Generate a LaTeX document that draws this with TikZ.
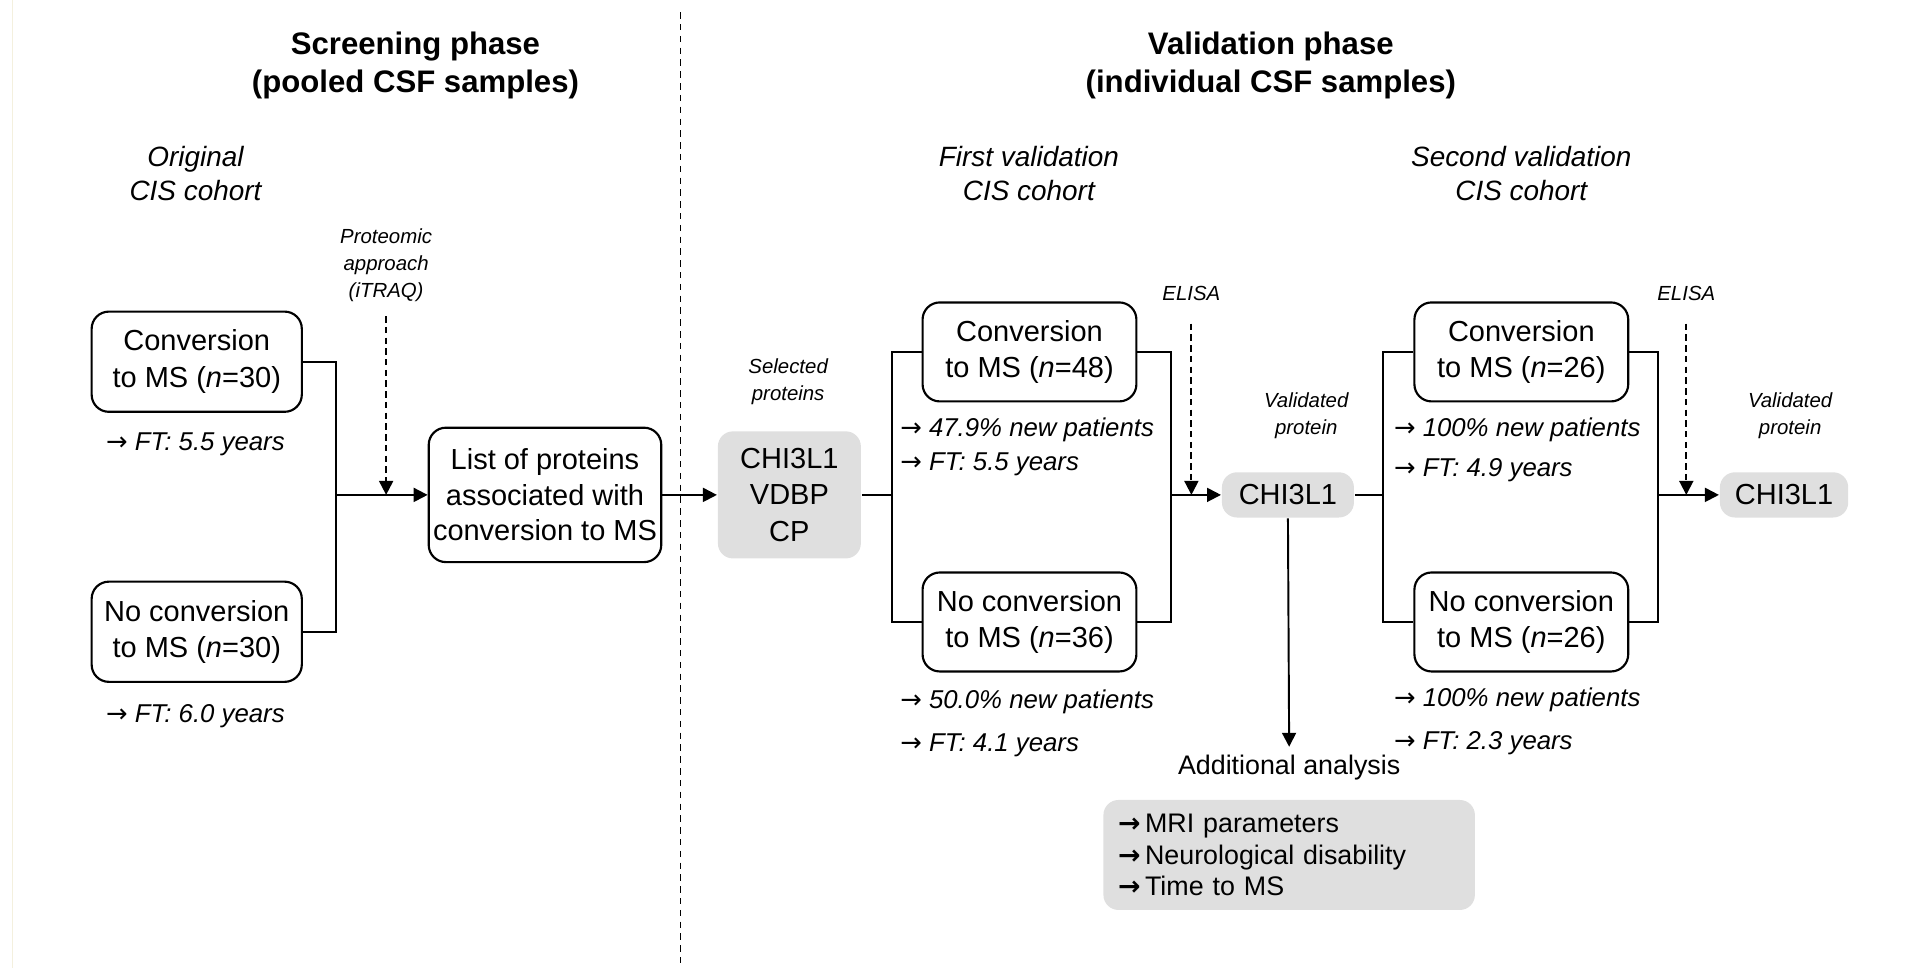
\documentclass[tikz,border=0pt]{standalone}
\usepackage{fontspec}
\setmainfont{Liberation Sans}
\newfontfamily\arrowfont{DejaVu Sans}
\newcommand{\ra}{{\arrowfont\upshape →}}
\usetikzlibrary{arrows.meta, positioning, calc}

\begin{document}
\begin{tikzpicture}[
		>={Triangle[length=6.5pt,width=6.5pt]},
		line width=0.9pt,
		group/.style={draw, rounded corners=8pt, line width=1pt, align=center,
			minimum width=3.5cm, minimum height=1.62cm, inner sep=2pt,
			font=\fontsize{13.5}{17}\selectfont},
		protein/.style={fill=gray!25, rounded corners=7pt, align=center,
			font=\fontsize{13.5}{17}\selectfont},
		cohort/.style={align=center, font=\itshape\fontsize{13}{16}\selectfont},
		note/.style={align=center, font=\itshape\fontsize{9.5}{12.5}\selectfont},
		fact/.style={anchor=west, inner sep=0pt, font=\itshape\fontsize{12}{14}\selectfont},
		phase/.style={align=center, font=\bfseries\fontsize{14.5}{17.5}\selectfont},
		divider/.style={dash pattern=on 3pt off 2.5pt, line width=0.8pt},
		dashflow/.style={dash pattern=on 3pt off 2pt, ->}
		]
		\useasboundingbox (0,0) rectangle (31.36,-15.84);
		
		% ==========================================
		% PHASE TITLES
		% ==========================================
		\node[phase] (screen) at (6.8,-1.07) {Screening phase\\(pooled CSF samples)};
		\node[phase] (valid) at (20.8,-1.07) {Validation phase\\(individual CSF samples)};
		
		\coordinate (edgetop) at (0.2,0);
		\coordinate (edgebot) at (0.2,-15.84);
		\draw[line width=0.6pt, color={rgb,255:red,244;green,240;blue,222}] (edgetop) -- (edgebot);
		
		\coordinate (divtop) at (11.14,-0.2);
		\coordinate (divbot) at (11.14,-15.8);
		\draw[divider] (divtop) -- (divbot);
		
		% ==========================================
		% SCREENING (original CIS cohort)
		% ==========================================
		\node[cohort] (orig) at (3.2,-2.84) {Original\\CIS cohort};
		\node[group, minimum width=3.44cm, minimum height=1.64cm] (conv30) at (3.22,-5.92)
		{Conversion\\to MS (\textit{n}=30)};
		\node[fact] (ft30) at (1.72,-7.28) {\ra\ FT: 5.5 years};
		\node[group, minimum width=3.44cm, minimum height=1.64cm] (noconv30) at (3.22,-10.34)
		{No conversion\\to MS (\textit{n}=30)};
		\node[fact] (ft30b) at (1.72,-11.72) {\ra\ FT: 6.0 years};
		
		\coordinate (join) at (5.5,-8.1);
		\node[note] (prot) at (6.32,-4.34) {Proteomic\\approach\\(iTRAQ)};
		\node[group, minimum width=3.76cm, minimum height=2.2cm, font=\fontsize{13.5}{16.5}\selectfont]
		(list) at (8.92,-8.1) {List of proteins\\associated with\\conversion to MS};
		
		\draw (conv30.east) -| (join);
		\draw (noconv30.east) -| (join);
		\draw[->] (join) -- (list.west);
		\draw[dashflow] ([yshift=-3pt]prot.south) -- (prot.south |- join);
		
		% ==========================================
		% SELECTED PROTEINS
		% ==========================================
		\node[note] (selnote) at (12.9,-6.25) {Selected\\proteins};
		\node[protein, minimum width=2.34cm, minimum height=2.08cm] (sel) at (12.92,-8.1)
		{CHI3L1\\VDBP\\CP};
		\draw[->] (list.east) -- (sel.west);
		
		% ==========================================
		% FIRST VALIDATION COHORT
		% ==========================================
		\node[cohort] (first) at (16.84,-2.84) {First validation\\CIS cohort};
		\node[group] (conv48) at (16.85,-5.76) {Conversion\\to MS (\textit{n}=48)};
		\node[fact] (pat48) at (14.72,-7.04) {\ra\ 47.9\% new patients};
		\node[fact] (ft48) at (14.72,-7.6) {\ra\ FT: 5.5 years};
		\node[group] (noconv36) at (16.85,-10.18) {No conversion\\to MS (\textit{n}=36)};
		\node[fact] (pat36) at (14.72,-11.48) {\ra\ 50.0\% new patients};
		\node[fact] (ft36) at (14.72,-12.2) {\ra\ FT: 4.1 years};
		
		\coordinate (split1) at (14.6,-8.1);
		\coordinate (merge1) at (19.16,-8.1);
		\node[note] (elisa1) at (19.5,-4.8) {ELISA};
		\node[note] (valnote1) at (21.38,-6.8) {Validated\\protein};
		\node[protein, minimum width=2.16cm, minimum height=0.74cm, inner sep=1pt] (chi1) at (21.08,-8.1) {CHI3L1};
		
		\draw (sel.east) -- (split1);
		\draw (conv48.west) -| (split1) |- (noconv36.west);
		\draw (conv48.east) -| (merge1) |- (noconv36.east);
		\draw[->] (merge1) -- (chi1.west);
		\draw[dashflow] ([yshift=-7pt]elisa1.south) -- (elisa1.south |- merge1);
		
		% ==========================================
		% ADDITIONAL ANALYSIS
		% ==========================================
		\node[font=\fontsize{12.5}{15}\selectfont] (addl) at (21.1,-12.56) {Additional analysis};
		\node[protein, below=0.18cm of addl, align=left, text width=5.6cm, inner xsep=0.24cm,
		minimum height=1.8cm, font=\fontsize{12.5}{14.5}\selectfont] (addbox)
		{{\bfseries\ra}\,MRI parameters\\{\bfseries\ra}\,Neurological disability\\{\bfseries\ra}\,Time to MS};
		\draw[->] (chi1.south) -- (addl.north);
		
		% ==========================================
		% SECOND VALIDATION COHORT
		% ==========================================
		\node[cohort] (second) at (24.9,-2.84) {Second validation\\CIS cohort};
		\node[group] (conv26) at (24.9,-5.76) {Conversion\\to MS (\textit{n}=26)};
		\node[fact] (pat26) at (22.8,-7.04) {\ra\ 100\% new patients};
		\node[fact] (ft26) at (22.8,-7.7) {\ra\ FT: 4.9 years};
		\node[group] (noconv26) at (24.9,-10.18) {No conversion\\to MS (\textit{n}=26)};
		\node[fact] (pat26b) at (22.8,-11.46) {\ra\ 100\% new patients};
		\node[fact] (ft26b) at (22.8,-12.16) {\ra\ FT: 2.3 years};
		
		\coordinate (split2) at (22.64,-8.1);
		\coordinate (merge2) at (27.14,-8.1);
		\node[note] (elisa2) at (27.6,-4.8) {ELISA};
		\node[note] (valnote2) at (29.3,-6.8) {Validated\\protein};
		\node[protein, minimum width=2.1cm, minimum height=0.74cm, inner sep=1pt] (chi2) at (29.2,-8.1) {CHI3L1};
		
		\draw (chi1.east) -- (split2);
		\draw (conv26.west) -| (split2) |- (noconv26.west);
		\draw (conv26.east) -| (merge2) |- (noconv26.east);
		\draw[->] (merge2) -- (chi2.west);
		\draw[dashflow] ([yshift=-7pt]elisa2.south) -- (elisa2.south |- merge2);
		
	\end{tikzpicture}
\end{document}
